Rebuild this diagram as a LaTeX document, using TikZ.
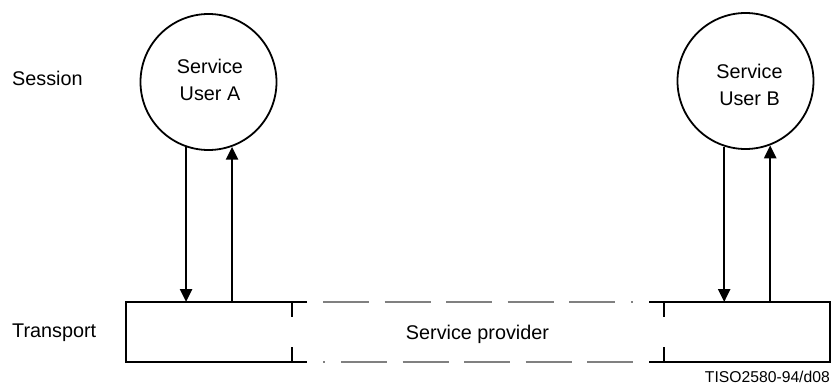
\documentclass[tikz,border=0pt]{standalone}
\usepackage{fontspec}
\setmainfont{Liberation Sans}
\usetikzlibrary{arrows.meta}
\begin{document}
\begin{tikzpicture}[x=1pt,y=-1pt,
  lbl/.style={font=\fontsize{19.8}{27}\selectfont, inner sep=0pt},
  usr/.style={circle, draw, line width=1.8pt, minimum size=136pt, inner sep=0pt},
  area/.style={minimum width=166pt, minimum height=60pt, inner sep=0pt, outer sep=0pt},
  ln/.style={line width=2.4pt},
  arr/.style={line width=2.4pt, -{Triangle[length=13pt,width=12pt]}},
  prov/.style={draw=black!50, line width=1.5pt},
]
\useasboundingbox (0,0) rectangle (833,385);
% users
\node[usr] (ua) at (208.5,82) {};
\node[usr] (ub) at (745.5,81) {};
\node[lbl, align=center] (ta) at (210,79.5) {Service\\User A};
\node[lbl, align=center] (tb) at (749.5,84.5) {Service\\User B};
% layer labels
\node[lbl, anchor=base west] (ses) at (12,86) {Session};
\node[lbl, anchor=base west] (tra) at (12,337.5) {Transport};
\node[lbl, anchor=base] (sp) at (477.5,339) {Service provider};
\node[font=\fontsize{15.7}{18}\selectfont, anchor=base east, inner sep=0pt] (tiso) at (830,382) {TISO2580-94/d08};
% transport boxes
\node[area] (boxA) at (209,332) {};
\node[area] (boxB) at (747,332) {};
\draw[ln] ([xshift=15pt]boxA.north east) -- (boxA.north west) -- (boxA.south west) -- ([xshift=15pt]boxA.south east);
\draw[ln] (boxA.north east) -- ++(0,15);
\draw[ln] (boxA.south east) -- ++(0,-15);
\draw[ln] ([xshift=-15pt]boxB.north west) -- (boxB.north east) -- (boxB.south east) -- ([xshift=-15pt]boxB.south west);
\draw[ln] (boxB.north west) -- ++(0,15);
\draw[ln] (boxB.south west) -- ++(0,-15);
% service provider (dash-dot)
\draw[prov, dash pattern=on 46pt off 15.5pt] ([xshift=31pt]boxA.north east) -- ([xshift=-49pt]boxB.north west);
\draw[prov] ([xshift=-33pt]boxB.north west) -- ([xshift=-31pt]boxB.north west);
\draw[prov] ([xshift=31pt]boxA.south east) -- ([xshift=33pt]boxA.south east);
\draw[prov, dash pattern=on 46pt off 15.5pt] ([xshift=49pt]boxA.south east) -- ([xshift=-31pt]boxB.south west);
% primitives
\draw[arr] (ua.251.6) -- (ua.251.6 |- boxA.north);
\draw[arr] (ua.290.2 |- boxA.north) -- (ua.290.2);
\draw[arr] (ub.252.2) -- (ub.252.2 |- boxB.north);
\draw[arr] (ub.291.5 |- boxB.north) -- (ub.291.5);
\end{tikzpicture}
\end{document}
